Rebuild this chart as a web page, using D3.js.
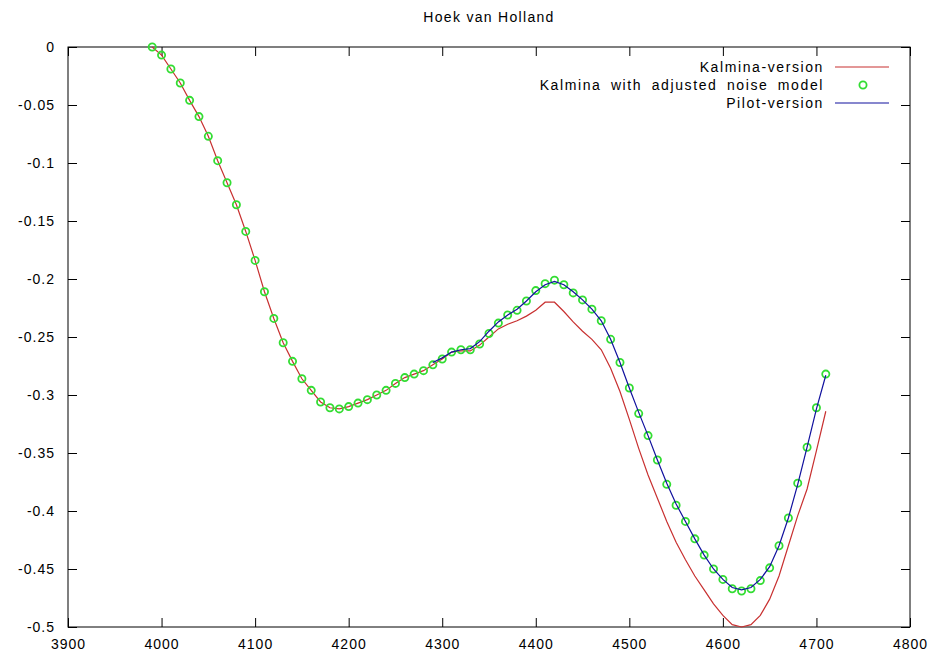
<!DOCTYPE html>
<html>
<head>
<meta charset="utf-8">
<script src="https://cdn.jsdelivr.net/npm/d3@7"></script>
<style>
  html, body { margin: 0; padding: 0; background: #fff; }
  svg text { font-family: "Liberation Sans", Arial, sans-serif; font-size: 14px; fill: #000; letter-spacing: 1px; }
  svg text.legend { letter-spacing: 1.6px; word-spacing: 4px; }
  svg text.title { letter-spacing: 1.3px; }
</style>
</head>
<body>
<svg id="chart" width="933" height="654"></svg>
<script>
// ---------- data ----------
const title = "Hoek van Holland";
const seriesNames = ["Kalmina-version", "Kalmina with adjusted noise model", "Pilot-version"];

// x positions of the Kalmina runs (3990 .. 4710 step 10, listed explicitly)
const kalminaX = [3990,4000,4010,4020,4030,4040,4050,4060,4070,4080,4090,4100,4110,4120,4130,4140,4150,4160,4170,4180,4190,4200,4210,4220,4230,4240,4250,4260,4270,4280,4290,4300,4310,4320,4330,4340,4350,4360,4370,4380,4390,4400,4410,4420,4430,4440,4450,4460,4470,4480,4490,4500,4510,4520,4530,4540,4550,4560,4570,4580,4590,4600,4610,4620,4630,4640,4650,4660,4670,4680,4690,4700,4710];

const kalminaY = [0,-0.007,-0.019,-0.031,-0.046,-0.060,-0.077,-0.098,-0.117,-0.136,-0.159,-0.184,-0.211,-0.234,-0.255,-0.271,-0.286,-0.296,-0.306,-0.311,-0.312,-0.310,-0.307,-0.304,-0.300,-0.296,-0.290,-0.285,-0.282,-0.279,-0.274,-0.269,-0.263,-0.262,-0.262,-0.257,-0.250,-0.243,-0.239,-0.236,-0.232,-0.227,-0.220,-0.220,-0.228,-0.237,-0.245,-0.252,-0.261,-0.277,-0.297,-0.321,-0.346,-0.369,-0.389,-0.409,-0.427,-0.442,-0.456,-0.468,-0.480,-0.490,-0.498,-0.500,-0.498,-0.490,-0.476,-0.456,-0.430,-0.404,-0.381,-0.348,-0.314];

const adjustedY = [0,-0.007,-0.019,-0.031,-0.046,-0.060,-0.077,-0.098,-0.117,-0.136,-0.159,-0.184,-0.211,-0.234,-0.255,-0.271,-0.286,-0.296,-0.306,-0.311,-0.312,-0.310,-0.307,-0.304,-0.300,-0.296,-0.290,-0.285,-0.282,-0.279,-0.274,-0.269,-0.263,-0.261,-0.261,-0.256,-0.247,-0.238,-0.231,-0.227,-0.219,-0.210,-0.204,-0.201,-0.205,-0.212,-0.218,-0.226,-0.236,-0.252,-0.272,-0.294,-0.316,-0.335,-0.356,-0.377,-0.395,-0.409,-0.424,-0.438,-0.450,-0.459,-0.467,-0.469,-0.467,-0.460,-0.449,-0.430,-0.406,-0.376,-0.345,-0.311,-0.282];

const pilotX = [4290,4300,4310,4320,4330,4340,4350,4360,4370,4380,4390,4400,4410,4420,4430,4440,4450,4460,4470,4480,4490,4500,4510,4520,4530,4540,4550,4560,4570,4580,4590,4600,4610,4620,4630,4640,4650,4660,4670,4680,4690,4700,4710];
const pilotY = [-0.272,-0.268,-0.263,-0.261,-0.260,-0.254,-0.245,-0.237,-0.231,-0.226,-0.219,-0.211,-0.205,-0.202,-0.205,-0.211,-0.218,-0.226,-0.236,-0.252,-0.272,-0.294,-0.315,-0.335,-0.356,-0.376,-0.394,-0.409,-0.424,-0.438,-0.450,-0.459,-0.466,-0.468,-0.466,-0.459,-0.448,-0.430,-0.406,-0.377,-0.345,-0.312,-0.283];

const xTicks = [3900,4000,4100,4200,4300,4400,4500,4600,4700,4800];
const xTickLabels = ["3900","4000","4100","4200","4300","4400","4500","4600","4700","4800"];
const yTicks = [0,-0.05,-0.1,-0.15,-0.2,-0.25,-0.3,-0.35,-0.4,-0.45,-0.5];
const yTickLabels = ["0","-0.05","-0.1","-0.15","-0.2","-0.25","-0.3","-0.35","-0.4","-0.45","-0.5"];

// ---------- layout ----------
const W = 933, H = 654;
const m = {left: 68, top: 47, right: 23, bottom: 27};
const pw = W - m.left - m.right, ph = H - m.top - m.bottom;
const colors = {red: "#c83030", green: "#33dd33", blue: "#10109e"};

const svg = d3.select("#chart");
const g = svg.append("g").attr("transform", `translate(${m.left},${m.top})`);

const x = d3.scaleLinear().domain([3900, 4800]).range([0, pw]);
const y = d3.scaleLinear().domain([-0.5, 0]).range([ph, 0]);

const tickLen = 9;
const fmtX = (d) => xTickLabels[xTicks.indexOf(d)];
const fmtY = (d) => yTickLabels[yTicks.indexOf(d)];

function styleAxis(sel) {
  sel.select(".domain").remove();
  sel.selectAll(".tick line").attr("stroke", "#000").attr("stroke-width", 1);
  sel.selectAll("text").attr("font-family", null).attr("font-size", null).attr("fill", "#000");
}

g.append("g").attr("transform", `translate(0,${ph})`)
  .call(d3.axisBottom(x).tickValues(xTicks).tickFormat(fmtX).tickSizeInner(-tickLen).tickSizeOuter(0).tickPadding(12))
  .call(styleAxis);
g.append("g")
  .call(d3.axisTop(x).tickValues(xTicks).tickFormat("").tickSizeInner(-tickLen).tickSizeOuter(0))
  .call(styleAxis);
g.append("g")
  .call(d3.axisLeft(y).tickValues(yTicks).tickFormat(fmtY).tickSizeInner(-tickLen).tickSizeOuter(0).tickPadding(13))
  .call(styleAxis);
g.append("g").attr("transform", `translate(${pw},0)`)
  .call(d3.axisRight(y).tickValues(yTicks).tickFormat("").tickSizeInner(-tickLen).tickSizeOuter(0))
  .call(styleAxis);

g.append("rect").attr("x", 0).attr("y", 0).attr("width", pw).attr("height", ph)
  .attr("fill", "none").attr("stroke", "#000").attr("stroke-width", 1);

// title
svg.append("text").attr("class", "title").attr("x", 489).attr("y", 22).attr("text-anchor", "middle").text(title);

// series
const line = d3.line().x(d => x(d[0])).y(d => y(d[1]));
const kalmina = kalminaX.map((v, i) => [v, kalminaY[i]]);
const adjusted = kalminaX.map((v, i) => [v, adjustedY[i]]);
const pilot = pilotX.map((v, i) => [v, pilotY[i]]);

g.append("path").datum(kalmina).attr("d", line)
  .attr("fill", "none").attr("stroke", colors.red).attr("stroke-width", 1.2);

g.append("g").selectAll("circle").data(adjusted).join("circle")
  .attr("cx", d => x(d[0])).attr("cy", d => y(d[1])).attr("r", 3.6)
  .attr("fill", "none").attr("stroke", colors.green).attr("stroke-width", 1.8);

g.append("path").datum(pilot).attr("d", line)
  .attr("fill", "none").attr("stroke", colors.blue).attr("stroke-width", 1.2);

// legend
const legX = 824, legY0 = 67, legDy = 18;
const leg = svg.append("g");
seriesNames.forEach((name, i) => {
  const yy = legY0 + i * legDy;
  leg.append("text").attr("class", "legend").attr("x", legX).attr("y", yy).attr("dy", "0.35em").attr("text-anchor", "end").text(name);
  if (i === 1) {
    leg.append("circle").attr("cx", 863).attr("cy", yy).attr("r", 3.6)
      .attr("fill", "none").attr("stroke", colors.green).attr("stroke-width", 1.8);
  } else {
    leg.append("line").attr("x1", 835).attr("x2", 889).attr("y1", yy).attr("y2", yy)
      .attr("stroke", i === 0 ? colors.red : colors.blue).attr("stroke-width", 1.2);
  }
});
</script>
</body>
</html>
